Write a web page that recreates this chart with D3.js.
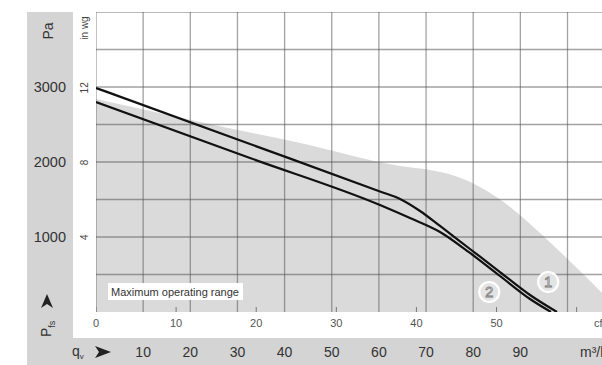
<!DOCTYPE html>
<html>
<head>
<meta charset="utf-8">
<script src="https://cdn.jsdelivr.net/npm/d3@7"></script>
<style>
  body { margin: 0; background: #fff; }
  svg { display: block; font-family: "Liberation Sans", Arial, sans-serif; }
</style>
</head>
<body>
<div id="chart"></div>
<script>
// volume flow in m³/h, static pressure in Pa
const flowCurve1 = [0, 32.66, 60.23, 64.48, 68.72, 72.96, 79.32, 85.68, 92.05, 97.77];
const pressureCurve1 = [2987, 2240, 1607, 1507, 1347, 1147, 840, 533, 227, 0];

const flowCurve2 = [0, 32.66, 60.23, 66.6, 72.96, 79.32, 85.68, 92.05, 96.5];
const pressureCurve2 = [2800, 2053, 1427, 1253, 1067, 787, 480, 173, 0];

const flowRange = [0, 22.1, 43.3, 64.5, 70.84, 76.14, 81.44, 86.74, 92.05, 97.35, 102.65, 107.32, 111.1];
const pressureRange = [2840, 2533, 2253, 1947, 1893, 1813, 1667, 1453, 1173, 867, 547, 253, 0];

const curveLabels = ["1", "2"];
const labelFlow = [95.9, 83.4];
const labelPressure = [400, 267];

const paTicks = [1000, 2000, 3000];
const inwgTicks = [4, 8, 12];
const cfmTicks = [0, 10, 20, 30, 40, 50, 60];
const m3hTicks = [10, 20, 30, 40, 50, 60, 70, 80, 90];

const W = 602, H = 365;
const plotLeft = 96, plotTop = 12, plotBottom = 312;

const x = d3.scaleLinear().domain([0, 100]).range([plotLeft, 567.5]);
const y = d3.scaleLinear().domain([0, 4000]).range([plotBottom, plotTop]);
const cfmToM3h = 1.699;
const inwgToPa = 249.09;

const svg = d3.select("#chart").append("svg")
    .attr("width", W)
    .attr("height", H);

// grey label bands
svg.append("rect").attr("x", 27).attr("y", plotTop).attr("width", 46).attr("height", H - plotTop).attr("fill", "#d4d4d4");
svg.append("rect").attr("x", 27).attr("y", 338).attr("width", W - 27).attr("height", H - 338).attr("fill", "#d4d4d4");

svg.append("clipPath").attr("id", "plot")
  .append("rect").attr("x", plotLeft).attr("y", plotTop).attr("width", W - plotLeft).attr("height", plotBottom - plotTop);

const plot = svg.append("g").attr("clip-path", "url(#plot)");

// maximum operating range
const rangeData = flowRange.map((f, i) => [f, pressureRange[i]]);
const area = d3.area()
    .x(d => x(d[0]))
    .y0(y(0))
    .y1(d => y(d[1]))
    .curve(d3.curveMonotoneX);
plot.append("path")
    .datum(rangeData)
    .attr("d", area)
    .attr("fill", "#dadada");

// grid
plot.append("g")
  .selectAll("line")
  .data(d3.range(0, 120, 10))
  .join("line")
    .attr("x1", d => x(d)).attr("x2", d => x(d))
    .attr("y1", plotTop).attr("y2", plotBottom)
    .attr("stroke", "#555").attr("stroke-opacity", 0.55).attr("stroke-width", 1.3);

plot.append("g")
  .selectAll("line")
  .data(d3.range(500, 4001, 500))
  .join("line")
    .attr("x1", plotLeft).attr("x2", W)
    .attr("y1", d => y(d)).attr("y2", d => y(d))
    .attr("stroke", "#555").attr("stroke-opacity", 0.55).attr("stroke-width", 1.3);

// cfm ticks
plot.append("g")
  .selectAll("line")
  .data(cfmTicks)
  .join("line")
    .attr("x1", d => x(d * cfmToM3h)).attr("x2", d => x(d * cfmToM3h))
    .attr("y1", plotBottom - 5).attr("y2", plotBottom)
    .attr("stroke", "#777").attr("stroke-width", 1);

// label box
svg.append("rect")
    .attr("x", 108).attr("y", 283).attr("width", 135).attr("height", 17)
    .attr("fill", "#fff");
svg.append("text")
    .attr("x", 111).attr("y", 295.5)
    .attr("font-size", 10)
    .attr("textLength", 128)
    .attr("lengthAdjust", "spacingAndGlyphs")
    .attr("fill", "#333")
    .text("Maximum operating range");

// characteristic curves
const line = d3.line()
    .x(d => x(d[0]))
    .y(d => y(d[1]))
    .curve(d3.curveMonotoneX);

[[flowCurve1, pressureCurve1], [flowCurve2, pressureCurve2]].forEach(([f, p]) => {
  plot.append("path")
      .datum(f.map((v, i) => [v, p[i]]))
      .attr("d", line)
      .attr("fill", "none")
      .attr("stroke", "#111")
      .attr("stroke-width", 2.2);
});

// curve numbers
const marks = svg.append("g")
  .selectAll("g")
  .data(curveLabels)
  .join("g")
    .attr("transform", (d, i) => `translate(${x(labelFlow[i])},${y(labelPressure[i])})`);
marks.append("circle")
    .attr("r", 10)
    .attr("fill", "#e4e4e4")
    .attr("stroke", "#fff")
    .attr("stroke-width", 2.2);
marks.append("text")
    .attr("text-anchor", "middle")
    .attr("dy", "0.36em")
    .attr("font-size", 15)
    .attr("fill", "#fff")
    .attr("stroke", "#7a7a7a")
    .attr("stroke-width", 0.8)
    .text(d => d);

// Pa axis
svg.append("g")
  .selectAll("text")
  .data(paTicks)
  .join("text")
    .attr("x", 66)
    .attr("y", d => y(d))
    .attr("dy", "0.36em")
    .attr("text-anchor", "end")
    .attr("font-size", 14.5)
    .attr("fill", "#333")
    .text(d => d);

svg.append("text")
    .attr("transform", "translate(53,31) rotate(-90)")
    .attr("text-anchor", "middle")
    .attr("font-size", 14)
    .attr("fill", "#333")
    .text("Pa");

// in wg axis
svg.append("g")
  .selectAll("text")
  .data(inwgTicks)
  .join("text")
    .attr("transform", d => `translate(88,${y(d * inwgToPa)}) rotate(-90)`)
    .attr("text-anchor", "middle")
    .attr("font-size", 10)
    .attr("fill", "#444")
    .text(d => d);

svg.append("text")
    .attr("transform", "translate(88,28) rotate(-90)")
    .attr("text-anchor", "middle")
    .attr("font-size", 10)
    .attr("fill", "#444")
    .text("in wg");

// cfm axis
svg.append("g")
  .selectAll("text")
  .data(cfmTicks.slice(0, 6))
  .join("text")
    .attr("x", d => x(d * cfmToM3h))
    .attr("y", 323)
    .attr("dy", "0.36em")
    .attr("text-anchor", "middle")
    .attr("font-size", 11)
    .attr("fill", "#555")
    .text(d => d);
svg.append("text")
    .attr("x", 594).attr("y", 323).attr("dy", "0.36em")
    .attr("font-size", 11).attr("fill", "#555")
    .text("cfm");

// m³/h axis
svg.append("g")
  .selectAll("text")
  .data(m3hTicks)
  .join("text")
    .attr("x", d => x(d))
    .attr("y", 352)
    .attr("dy", "0.36em")
    .attr("text-anchor", "middle")
    .attr("font-size", 14)
    .attr("fill", "#333")
    .text(d => d);
svg.append("text")
    .attr("x", 580).attr("y", 352).attr("dy", "0.36em")
    .attr("font-size", 14).attr("fill", "#333")
    .text("m³/h");

// q_v with arrow
const qv = svg.append("text")
    .attr("x", 72).attr("y", 356)
    .attr("font-size", 14).attr("fill", "#333");
qv.append("tspan").text("q");
qv.append("tspan").attr("font-size", 8).attr("dy", 3).text("v");
svg.append("path")
    .attr("d", "M95,346 L111,352 L95,358 L99,352 Z")
    .attr("fill", "#222");

// P_fs with arrow
const pfs = svg.append("text")
    .attr("transform", "translate(51,337) rotate(-90)")
    .attr("font-size", 14).attr("fill", "#333");
pfs.append("tspan").text("P");
pfs.append("tspan").attr("font-size", 9).attr("dy", 4).text("fs");
svg.append("path")
    .attr("d", "M41,308 L47,294 L53,308 L47,304 Z")
    .attr("fill", "#222");
</script>
</body>
</html>
